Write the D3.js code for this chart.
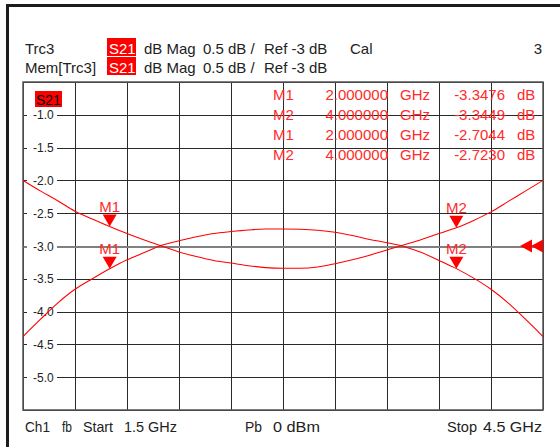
<!DOCTYPE html>
<html>
<head>
<meta charset="utf-8">
<script src="https://cdn.jsdelivr.net/npm/d3@7"></script>
<style>
  html, body { margin: 0; padding: 0; background: #fff; }
  svg { display: block; }
  text { font-family: "Liberation Sans", Arial, sans-serif; white-space: pre; }
</style>
</head>
<body>
<svg id="chart" width="560" height="447"></svg>
<script>
// Sweep: 1.5 GHz to 4.5 GHz, S21 in dB
const freqGHz = [1.5, 1.6, 1.7, 1.8, 1.9, 2.0, 2.1, 2.2, 2.3, 2.4, 2.5, 2.6, 2.7, 2.8, 2.9, 3.0,
                 3.1, 3.2, 3.3, 3.4, 3.5, 3.6, 3.7, 3.8, 3.9, 4.0, 4.1, 4.2, 4.3, 4.4, 4.5];

// Trc3 (live trace)
const trcValues = [-4.38, -4.12, -3.87, -3.66, -3.50, -3.3476, -3.21, -3.10, -2.99, -2.92, -2.86,
                   -2.81, -2.78, -2.755, -2.74, -2.74, -2.745, -2.76, -2.79, -2.84, -2.90, -2.95,
                   -3.01, -3.10, -3.22, -3.3449, -3.49, -3.66, -3.87, -4.12, -4.38];

// Mem[Trc3] (stored trace)
const memValues = [-2.00, -2.16, -2.31, -2.47, -2.59, -2.7044, -2.81, -2.91, -3.00, -3.09, -3.16,
                   -3.22, -3.26, -3.30, -3.33, -3.34, -3.34, -3.32, -3.27, -3.21, -3.14, -3.06,
                   -2.98, -2.90, -2.81, -2.7230, -2.61, -2.48, -2.32, -2.16, -2.00];

// Markers
const markerNames = ["M1", "M2"];
const markerFreq = [2.0, 4.0];
const trcMarkerVals = [-3.3476, -3.3449];
const memMarkerVals = [-2.7044, -2.7230];

// Axis setup
const xTicks = [1.5, 1.8, 2.1, 2.4, 2.7, 3.0, 3.3, 3.6, 3.9, 4.2, 4.5];
const yGridVals = [-0.5, -1.0, -1.5, -2.0, -2.5, -3.0, -3.5, -4.0, -4.5, -5.0, -5.5];
const yTickVals = [-1.0, -1.5, -2.0, -2.5, -3.0, -3.5, -4.0, -4.5, -5.0];
const yTickLabels = ["-1.0", "-1.5", "-2.0", "-2.5", "-3.0", "-3.5", "-4.0", "-4.5", "-5.0"];
const refLevel = -3;

const svg = d3.select("#chart");
const plot = { left: 23, top: 82, right: 543, bottom: 410 };
const x = d3.scaleLinear().domain([1.5, 4.5]).range([plot.left, plot.right]);
const y = d3.scaleLinear().domain([-5.5, -0.5]).range([plot.bottom, plot.top]);

const RED = "#ff0000";
const INK = "#222";

// Window frame (left and top edges)
svg.append("rect").attr("x", 6).attr("y", 4).attr("width", 554).attr("height", 3).attr("fill", "#1c1c1c");
svg.append("rect").attr("x", 6).attr("y", 4).attr("width", 3).attr("height", 443).attr("fill", "#1c1c1c");

// Header lines
function header(yBase, name) {
  const g = svg.append("g").attr("fill", INK).attr("font-size", 15);
  g.append("text").attr("x", 25).attr("y", yBase).text(name);
  g.append("rect").attr("x", 107).attr("y", yBase - 16).attr("width", 29).attr("height", 18).attr("fill", RED);
  g.append("text").attr("x", 109).attr("y", yBase).attr("fill", "#fff").text("S21");
  g.append("text").attr("x", 144).attr("y", yBase).text("dB Mag");
  g.append("text").attr("x", 203).attr("y", yBase).text("0.5 dB /");
  g.append("text").attr("x", 264).attr("y", yBase).text("Ref -3 dB");
  return g;
}
const h1 = header(54, "Trc3");
h1.append("text").attr("x", 350).attr("y", 54).text("Cal");
h1.append("text").attr("x", 542).attr("y", 54).attr("text-anchor", "end").text("3");
header(73, "Mem[Trc3]");

// Grid via axes
const gridX = svg.append("g")
  .attr("transform", `translate(0,${plot.bottom})`)
  .call(d3.axisBottom(x).tickValues(xTicks).tickSize(-(plot.bottom - plot.top)).tickFormat(""));
const gridY = svg.append("g")
  .attr("transform", `translate(${plot.left},0)`)
  .call(d3.axisLeft(y).tickValues(yGridVals).tickSize(-(plot.right - plot.left)).tickFormat(""));
[gridX, gridY].forEach(g => {
  g.select(".domain").remove();
  g.selectAll("line").attr("stroke", "#2a2a2a").attr("stroke-width", 1).attr("shape-rendering", "crispEdges");
});
// Reference line
gridY.selectAll(".tick").filter(d => d === refLevel).select("line")
  .attr("stroke", "#808080").attr("stroke-width", 2);

// Plot border
svg.append("rect")
  .attr("x", plot.left).attr("y", plot.top)
  .attr("width", plot.right - plot.left).attr("height", plot.bottom - plot.top)
  .attr("fill", "none").attr("stroke", "#555").attr("stroke-width", 1.5);

// Y tick labels with white backing
const yl = svg.append("g");
yTickVals.forEach((v, i) => {
  const yy = y(v);
  yl.append("rect").attr("x", 27).attr("y", yy - 7).attr("width", 30).attr("height", 14).attr("fill", "#fff");
  yl.append("text").attr("x", 33).attr("y", yy + 4.5).attr("font-size", 12).attr("fill", INK).text(yTickLabels[i]);
});

// Trace label in plot
svg.append("rect").attr("x", 35).attr("y", 91).attr("width", 27).attr("height", 16).attr("fill", RED);
svg.append("text").attr("x", 36).attr("y", 105).attr("font-size", 14).attr("fill", "#000").text("S21");

// Marker readout table
const table = svg.append("g").attr("fill", "#ff2a2a").attr("font-size", 15);
const rows = [];
markerNames.forEach((n, i) => rows.push({ name: n, f: markerFreq[i], v: trcMarkerVals[i] }));
markerNames.forEach((n, i) => rows.push({ name: n, f: markerFreq[i], v: memMarkerVals[i] }));
rows.forEach((r, i) => {
  const yy = 100 + i * 20;
  table.append("text").attr("x", 273).attr("y", yy).text(r.name);
  table.append("text").attr("x", 388).attr("y", yy).attr("text-anchor", "end").text(r.f.toFixed(6));
  table.append("text").attr("x", 400).attr("y", yy).text("GHz");
  table.append("text").attr("x", 505).attr("y", yy).attr("text-anchor", "end").text(r.v.toFixed(4));
  table.append("text").attr("x", 517).attr("y", yy).text("dB");
});

// Traces
const line = d3.line().x((d, i) => x(freqGHz[i])).y(d => y(d)).curve(d3.curveMonotoneX);
svg.append("path").datum(memValues).attr("d", line)
  .attr("fill", "none").attr("stroke", RED).attr("stroke-width", 1.1);
svg.append("path").datum(trcValues).attr("d", line)
  .attr("fill", "none").attr("stroke", RED).attr("stroke-width", 1.1);

// Marker symbols
function drawMarkers(vals) {
  vals.forEach((v, i) => {
    const px = x(markerFreq[i]), py = y(v);
    svg.append("path")
      .attr("d", `M${px - 7},${py - 12}L${px + 7},${py - 12}L${px},${py}Z`)
      .attr("fill", RED);
    svg.append("text").attr("x", px).attr("y", py - 15).attr("text-anchor", "middle")
      .attr("font-size", 15).attr("fill", "#ff2a2a").text(markerNames[i]);
  });
}
drawMarkers(memMarkerVals);
drawMarkers(trcMarkerVals);

// Reference level arrows at right edge
const ry = y(refLevel);
[520, 531].forEach(tx => {
  svg.append("path")
    .attr("d", `M${tx},${ry}L${tx + 12},${ry - 6.5}L${tx + 12},${ry + 6.5}Z`)
    .attr("fill", RED);
});

// Footer status bar
const foot = svg.append("g").attr("fill", INK).attr("font-size", 14);
const footItems = [
  ["Ch1", 25, 25], ["fb", 62, 10], ["Start", 83, 30], ["1.5 GHz", 124, 53],
  ["Pb", 245, 17], ["0 dBm", 273, 47], ["Stop", 447, 30], ["4.5 GHz", 483, 59]
];
footItems.forEach(([t, fx, w]) => {
  foot.append("text").attr("x", fx).attr("y", 432)
    .attr("textLength", w).attr("lengthAdjust", "spacingAndGlyphs").text(t);
});
</script>
</body>
</html>
